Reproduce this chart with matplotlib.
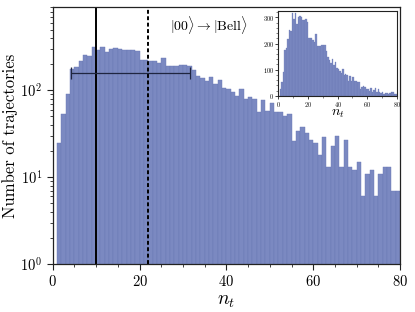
import numpy as np
import matplotlib
matplotlib.use("Agg")
import matplotlib.pyplot as plt
from matplotlib.ticker import MultipleLocator

plt.rcParams['font.family'] = 'serif'
plt.rcParams['font.serif'] = ['cmr10']
plt.rcParams['mathtext.fontset'] = 'cm'
plt.rcParams['axes.formatter.use_mathtext'] = True

# histogram of n_t, bins of width 1 starting at 0
bin_edges = list(range(0, 81))
counts = [0, 25, 53, 90, 177, 184, 219, 253, 250, 316,
          294, 316, 276, 302, 305, 300, 289, 289, 294, 281,
          223, 223, 220, 215, 206, 238, 189, 192, 192, 195,
          195, 193, 170, 147, 137, 127, 142, 119, 130, 106,
          103, 95, 87, 104, 80, 84, 79, 56, 77, 58,
          71, 56, 57, 51, 54, 26, 34, 38, 32, 27,
          25, 18, 29, 13, 23, 30, 13, 27, 13, 12,
          15, 6, 11, 12, 6, 11, 13, 13, 7, 7]
median_nt = 10
mean_nt = 22
range_lo, range_hi = 4.3, 31.7
range_y = 160

bar_face = '#7b89c1'
bar_edge = '#6877b4'
spine_c = '#222222'

fig = plt.figure(figsize=(4.15, 3.12), dpi=100)
ax = fig.add_axes([0.127, 0.154, 0.837, 0.822])

ax.bar(bin_edges[:-1], counts, width=1, align='edge', color=bar_face,
       edgecolor=bar_edge, linewidth=0.3)
ax.set_yscale('log')
ax.set_ylim(1, 900)
ax.set_xlim(0, 80)
ax.xaxis.set_major_locator(MultipleLocator(20))
ax.xaxis.set_minor_locator(MultipleLocator(5))

ax.axvline(median_nt, color='black', lw=1.4)
ax.axvline(mean_nt, color='black', lw=1.4, ls=(0, (2, 1.3)))
ax.errorbar((range_lo + range_hi) / 2, range_y, xerr=(range_hi - range_lo) / 2,
            color='#1f2540', lw=0.9, capsize=4, capthick=0.9)

ax.text(36, 560, r'$|00\rangle \rightarrow |\mathrm{Bell}\rangle$',
        ha='center', va='center', fontsize=10)

ax.set_xlabel(r'$n_t$', fontsize=14, labelpad=2)
ax.set_ylabel('Number of trajectories', fontsize=12, labelpad=2)
ax.tick_params(which='both', direction='out', labelsize=10.5, color=spine_c)
ax.tick_params(which='major', length=4, width=0.8)
ax.tick_params(which='minor', length=2.5, width=0.6)
for s in ax.spines.values():
    s.set_color(spine_c)
    s.set_linewidth(0.9)

# inset with linear scale
axin = fig.add_axes([0.671, 0.693, 0.285, 0.272])
axin.bar(bin_edges[:-1], counts, width=1, align='edge', color=bar_face,
         edgecolor=bar_edge, linewidth=0.2)
axin.set_xlim(0, 80)
axin.set_ylim(0, 325)
axin.xaxis.set_major_locator(MultipleLocator(20))
axin.xaxis.set_minor_locator(MultipleLocator(10))
axin.yaxis.set_major_locator(MultipleLocator(100))
axin.yaxis.set_minor_locator(MultipleLocator(20))
axin.tick_params(which='both', direction='out', labelsize=4.5, pad=1, color=spine_c)
axin.tick_params(which='major', length=2, width=0.6)
axin.tick_params(which='minor', length=1.2, width=0.4)
axin.set_xlabel(r'$n_t$', fontsize=10, labelpad=-1)
for s in axin.spines.values():
    s.set_color(spine_c)
    s.set_linewidth(0.8)

fig.savefig('out.png', dpi=100)
